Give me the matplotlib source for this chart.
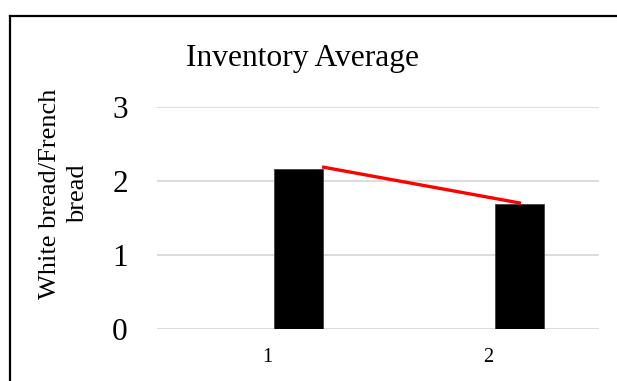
import matplotlib
matplotlib.use("Agg")
import matplotlib.pyplot as plt
from matplotlib.lines import Line2D

categories = ["1", "2"]
bar_values = [2.16, 1.69]
line_x = [1.247, 2.147]
line_y = [2.19, 1.70]
y_ticks = [0, 1, 2, 3]

plt.rcParams["font.family"] = ["Liberation Serif", "DejaVu Serif"]

fig = plt.figure(figsize=(6.17, 3.81), dpi=100)
ax = fig.add_axes([157 / 617, 1 - 329 / 381, 442 / 617, 222 / 381])

xpos = [i + 1 for i in range(len(categories))]
ax.bar([x + 0.14 for x in xpos], bar_values, width=0.222, color="black",
       edgecolor="#404040", linewidth=0.6, zorder=3)
ax.plot(line_x, line_y, color="#ff0000", linewidth=2.4, zorder=4,
        solid_capstyle="butt")

ax.set_xlim(0.5, 2.5)
ax.set_ylim(0, 3)
ax.set_yticks(y_ticks)
ax.set_yticklabels([str(t) for t in y_ticks], fontsize=22.5)
ax.set_xticks(xpos)
ax.set_xticklabels(categories, fontsize=14.5)
ax.tick_params(axis="y", length=0, pad=21)
ax.tick_params(axis="x", length=0, pad=14)
ax.grid(axis="y", color="#d9d9d9", linewidth=1.3, zorder=0)
for s in ax.spines.values():
    s.set_visible(False)

fig.text(303 / 617, 1 - 66 / 381, "Inventory Average", fontsize=22.7,
         ha="center", va="baseline")
fig.text(64 / 617, 1 - 194 / 381, "White bread/French\nbread", fontsize=19,
         rotation=90, ha="center", va="center", multialignment="center",
         linespacing=1.3)

# chart border (only left and top edges are in view)
fig.add_artist(Line2D([10.5 / 617, 10.5 / 617], [0, 1 - 16 / 381],
                      color="black", linewidth=1.6))
fig.add_artist(Line2D([10.5 / 617, 1], [1 - 16 / 381, 1 - 16 / 381],
                      color="black", linewidth=1.6))

fig.savefig("out.png", dpi=100)
